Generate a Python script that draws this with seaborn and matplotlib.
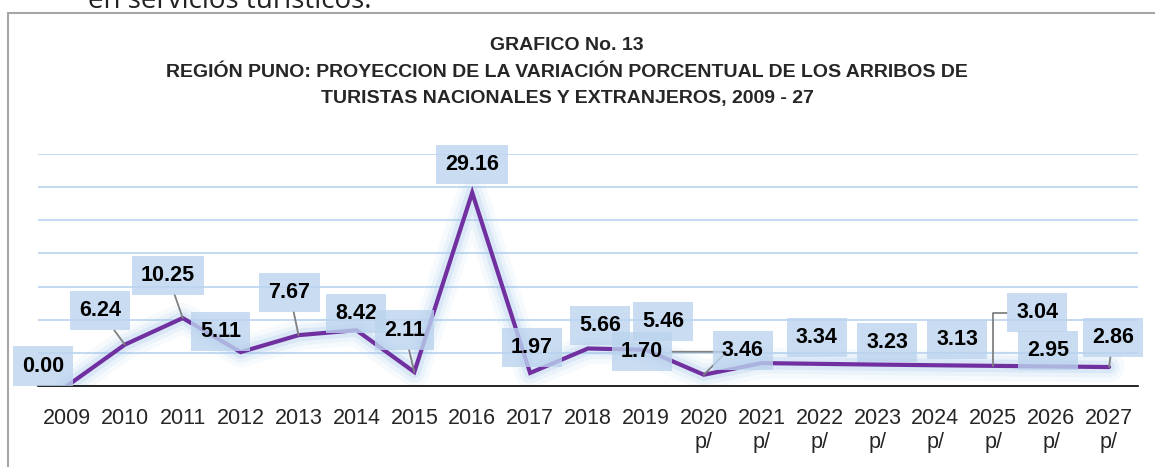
import numpy as np
import pandas as pd
import matplotlib
matplotlib.use("Agg")
import matplotlib.pyplot as plt
import seaborn as sns
from matplotlib.patches import Rectangle

# datos del grafico
anios = ["2009", "2010", "2011", "2012", "2013", "2014", "2015", "2016", "2017", "2018",
         "2019", "2020\np/", "2021\np/", "2022\np/", "2023\np/", "2024\np/", "2025\np/",
         "2026\np/", "2027\np/"]
variacion = [0.00, 6.24, 10.25, 5.11, 7.67, 8.42, 2.11, 29.16, 1.97, 5.66,
             5.46, 1.70, 3.46, 3.34, 3.23, 3.13, 3.04, 2.95, 2.86]
etiquetas = ["%.2f" % v for v in variacion]

df = pd.DataFrame({"pos": np.arange(len(anios)), "var": variacion})

sns.set_style("white")
plt.rcParams["font.family"] = ["Liberation Sans", "DejaVu Sans"]

fig = plt.figure(figsize=(11.55, 4.67), dpi=100)
ax = fig.add_axes([38 / 1155, 81 / 467, 1100 / 1155, 232 / 467])

# marco del grafico
fig.patches.append(Rectangle((8 / 1155, -0.1), 1.2, 0.1 + 454 / 467, transform=fig.transFigure,
                             fill=False, edgecolor="#a6a6a6", linewidth=1.5, zorder=0))
fig.text(88 / 1155, 0.998, "en servicios turísticos.", fontsize=20, va="center", ha="left",
         family=["Open Sans", "DejaVu Sans"], color="#222222")

fig.text(0.491, 0.92,
         "GRAFICO No. 13\nREGIÓN PUNO: PROYECCION DE LA VARIACIÓN PORCENTUAL DE LOS ARRIBOS DE\n"
         "TURISTAS NACIONALES Y EXTRANJEROS, 2009 - 27",
         ha="center", va="top", fontsize=14, fontweight="bold", linespacing=1.72)

# brillo alrededor de la linea
for lw, a in [(22, 0.08), (15, 0.14), (9, 0.22)]:
    sns.lineplot(data=df, x="pos", y="var", ax=ax, color="#9fc3ea", linewidth=lw, alpha=a,
                 solid_capstyle="round", solid_joinstyle="round")
sns.lineplot(data=df, x="pos", y="var", ax=ax, color="#7030a0", linewidth=3,
             solid_joinstyle="miter")

ax.set_xlim(-0.5, len(anios) - 0.5)
ax.set_ylim(0, 35)
ax.set_yticks(np.arange(5, 36, 5))
ax.set_yticklabels([])
ax.tick_params(axis="y", length=0)
ax.grid(axis="y", color="#bdd7f0", linewidth=1.3)
ax.set_axisbelow(True)
for s in ["top", "left", "right"]:
    ax.spines[s].set_visible(False)
ax.spines["bottom"].set_color("black")
ax.spines["bottom"].set_linewidth(1.2)

ax.set_xticks(np.arange(-0.5, len(anios), 1.0))
ax.set_xticklabels([])
ax.tick_params(axis="x", which="major", direction="inout", length=14, width=1.2, color="black")
ax.set_xticks(np.arange(len(anios)), minor=True)
ax.set_xticklabels(anios, minor=True, fontsize=15.5, linespacing=1.2)
ax.tick_params(axis="x", which="minor", length=0, pad=16)
ax.set_xlabel("")
ax.set_ylabel("")

# posicion de las etiquetas (pixeles respecto al punto)
desp = [(-24, 20), (-25, 34), (-15, 43), (-20, 21), (-9, 43), (0, 17), (-10, 42), (0, 28),
        (2, 25), (12, 23), (17, 28), (-62, 23), (-19, 13), (-3, 26), (10, 22), (22, 26),
        (44, 53), (-3, 16), (4, 30)]
guias = {1: "arc3", 2: "arc3", 4: "arc3", 6: "arc3", 11: "angle,angleA=0,angleB=45,rad=0",
         16: "angle,angleA=0,angleB=90,rad=0", 18: "arc3"}

for i, (x, y) in enumerate(zip(df["pos"], df["var"])):
    kw = {}
    if i in guias:
        kw["arrowprops"] = dict(arrowstyle="-", color="#808080", lw=1.3, shrinkA=0, shrinkB=0,
                                connectionstyle=guias[i])
    ax.annotate(etiquetas[i], (x, y), xytext=desp[i], textcoords="offset pixels",
                ha="center", va="center", fontsize=15.5, fontweight="bold", color="black",
                bbox=dict(boxstyle="square,pad=0.42", facecolor="#bcd4ee", edgecolor="none",
                          alpha=0.8), zorder=5, annotation_clip=False, **kw)

fig.savefig("out.png", dpi=100)
